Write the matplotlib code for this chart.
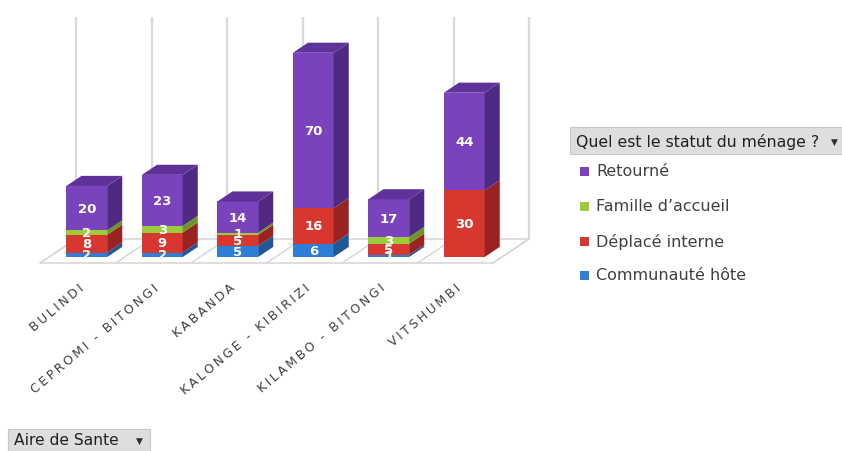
import matplotlib
matplotlib.use("Agg")
import matplotlib.pyplot as plt
from matplotlib.patches import Polygon, Rectangle
import numpy as np

categories = ["BULINDI", "CEPROMI - BITONGI", "KABANDA", "KALONGE - KIBIRIZI",
              "KILAMBO - BITONGI", "VITSHUMBI"]
series_names = ["Communauté hôte", "Déplacé interne", "Famille d’accueil", "Retourné"]
communaute = [2, 2, 5, 6, 1, 0]
deplace = [8, 9, 5, 16, 5, 30]
famille = [2, 3, 1, 0, 3, 0]
retourne = [20, 23, 14, 70, 17, 44]
series_values = [communaute, deplace, famille, retourne]
value_max = 100

front_cols = ["#2E7DD6", "#D8372F", "#9CCB3B", "#7B42BE"]
side_cols = ["#1F5797", "#9A2220", "#6E9528", "#4F2A83"]
top_cols = ["#2868B5", "#B52B27", "#84B030", "#5E3299"]

W, H = 842, 452
fig = plt.figure(figsize=(W / 100, H / 100), dpi=100)
ax = fig.add_axes([0, 0, 1, 1])

# pixel mapping: category unit = 75.5 px, value unit = 2.22 px
px_x, px_y = 75.5, 2.22
x0_px, y0_px = 40, H - 264
ax.set_xlim(-x0_px / px_x, (W - x0_px) / px_x)
ax.set_ylim(-y0_px / px_y, (H - y0_px) / px_y)
ax.axis("off")

DX = 36 / px_x   # full floor depth in category units
DY = 24 / px_y   # full floor depth in value units
n = len(categories)

# floor
floor = Polygon([(0, 0), (n, 0), (n + DX, DY), (DX, DY)], closed=True,
                facecolor="white", edgecolor="#D0D0D0", lw=1.0, zorder=1)
ax.add_patch(floor)
for i in range(n + 1):
    ax.plot([i, i + DX], [0, DY], color="#D6D6D6", lw=1.0, zorder=1)
    ax.plot([i + DX, i + DX], [DY, DY + value_max], color="#D9D9D9", lw=1.6,
            zorder=0.5, solid_capstyle="butt")

# bars
f0, fd = 0.25, 0.42
bw = 0.54
for i in range(n):
    xl = i + (1 - bw) / 2 + f0 * DX
    yb = f0 * DY
    cum = 0
    vals = [s[i] for s in series_values]
    total = sum(vals)
    for k, v in enumerate(vals):
        if v <= 0:
            continue
        b = yb + cum
        t = b + v
        ax.bar(xl + bw / 2, v, bottom=b, width=bw, color=front_cols[k],
               edgecolor="none", zorder=3)
        xr = xl + bw
        side = Polygon([(xr, b), (xr + fd * DX, b + fd * DY),
                        (xr + fd * DX, t + fd * DY), (xr, t)], closed=True,
                       facecolor=side_cols[k], edgecolor="none", zorder=3)
        ax.add_patch(side)
        cum += v
        ax.text(xl + bw / 2, (b + t) / 2, str(v), color="white", ha="center",
                va="center", fontsize=9.5, fontweight="bold", zorder=5)
    # top face of stack
    t = yb + total
    topk = max(k for k, v in enumerate(vals) if v > 0)
    top = Polygon([(xl, t), (xl + bw, t), (xl + bw + fd * DX, t + fd * DY),
                   (xl + fd * DX, t + fd * DY)], closed=True,
                  facecolor=top_cols[topk], edgecolor="none", zorder=3)
    ax.add_patch(top)

# category labels (letter-spaced like the original)
for i, c in enumerate(categories):
    spaced = "\u2009".join(c)
    ax.text(i + 0.5, -8, spaced, rotation=40, rotation_mode="anchor",
            ha="right", va="top", fontsize=9, color="#404040", zorder=5)

# legend header
def px2ax(xp, yp_top):
    return xp / W, 1 - yp_top / H

hx, hy = px2ax(570, 155)
fig.patches.append(Rectangle((hx, hy), (842 - 570) / W, 27 / H,
                             transform=fig.transFigure, facecolor="#DEDEDE",
                             edgecolor="#C8C8C8", lw=0.8))
fig.text(576 / W, 1 - 142 / H, "Quel est le statut du ménage ?", fontsize=11.3,
         color="#202020", va="center", ha="left")
fig.text(838 / W, 1 - 142 / H, "▼", fontsize=6.5, color="#303030",
         va="center", ha="right")

leg_order = [3, 2, 1, 0]
leg_y = [172, 207, 242, 276]
for k, yy in zip(leg_order, leg_y):
    fig.patches.append(Rectangle((580 / W, 1 - (yy + 4.5) / H), 9 / W, 9 / H,
                                 transform=fig.transFigure,
                                 facecolor=front_cols[k], edgecolor="none"))
    fig.text(596 / W, 1 - yy / H, series_names[k], fontsize=11.5,
             color="#404040", va="center", ha="left")

# axis field button
bx, by = px2ax(8, 452)
fig.patches.append(Rectangle((bx, by), (150 - 8) / W, 22 / H,
                             transform=fig.transFigure, facecolor="#DEDEDE",
                             edgecolor="#C8C8C8", lw=0.8))
fig.text(14 / W, 1 - 441 / H, "Aire de Sante", fontsize=11.2, color="#202020",
         va="center", ha="left")
fig.text(143 / W, 1 - 441 / H, "▼", fontsize=6.5, color="#303030",
         va="center", ha="right")

fig.savefig("out.png", dpi=100)
